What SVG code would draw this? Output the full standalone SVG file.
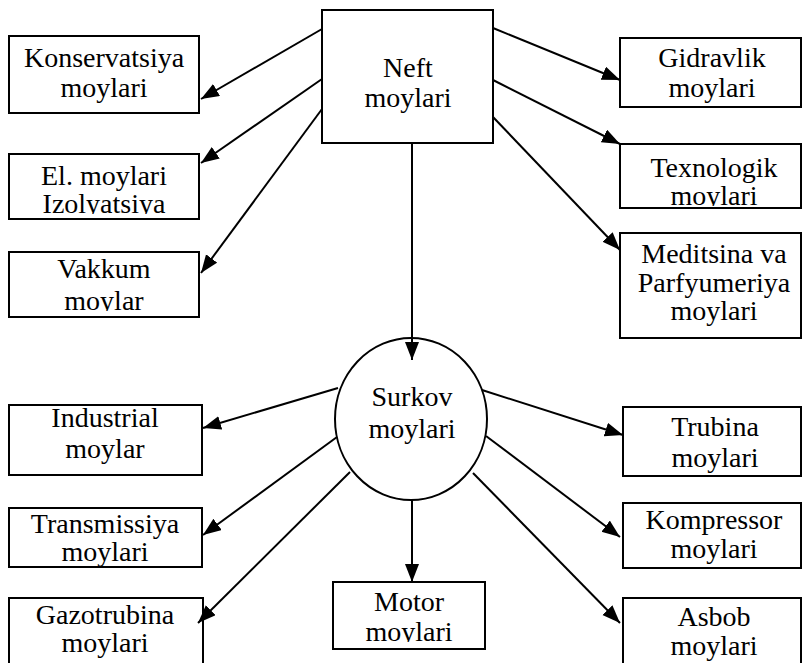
<svg xmlns="http://www.w3.org/2000/svg" width="802" height="663" viewBox="0 0 802 663">
<style>
.box{fill:#fff;stroke:#000;stroke-width:2}
.t{font-family:"Liberation Serif","Times New Roman",serif;font-size:28px;fill:#000;text-anchor:middle}
.c{stroke:#000;stroke-width:2;fill:none}
</style>
<defs>
<marker id="ah" markerUnits="userSpaceOnUse" markerWidth="19" markerHeight="15" refX="18" refY="7" orient="auto">
<path d="M0,0 L18,7 L0,14 Z" fill="#000"/>
</marker>
<clipPath id="cutIzo"><rect x="0" y="150" width="210" height="64"/></clipPath>
<clipPath id="cutVak"><rect x="0" y="250" width="210" height="61"/></clipPath>
<clipPath id="cutTex"><rect x="615" y="140" width="190" height="66"/></clipPath>
<clipPath id="cutMot"><rect x="330" y="580" width="160" height="62"/></clipPath>
</defs>
<rect width="802" height="663" fill="#fff"/>

<g id="neft">
<rect class="box" x="322" y="10" width="171" height="133"/>
<text class="t" x="408" y="77">Neft</text>
<text class="t" x="408" y="107">moylari</text>
</g>

<g id="konservatsiya">
<rect class="box" x="9" y="36" width="190" height="77"/>
<text class="t" x="104" y="67">Konservatsiya</text>
<text class="t" x="104" y="97">moylari</text>
</g>

<g id="el-moylari">
<rect class="box" x="9" y="154" width="190" height="65"/>
<text class="t" x="104" y="185">El. moylari</text>
<text class="t" x="104" y="213" clip-path="url(#cutIzo)">Izolyatsiya</text>
</g>

<g id="vakkum">
<rect class="box" x="9" y="252" width="190" height="65"/>
<text class="t" x="104" y="278">Vakkum</text>
<text class="t" x="104" y="310" clip-path="url(#cutVak)">moylar</text>
</g>

<g id="gidravlik">
<rect class="box" x="620" y="38" width="181" height="69"/>
<text class="t" x="712" y="67">Gidravlik</text>
<text class="t" x="712" y="97">moylari</text>
</g>

<g id="texnologik">
<rect class="box" x="620" y="144" width="181" height="64"/>
<text class="t" x="714" y="177">Texnologik</text>
<text class="t" x="714" y="205" clip-path="url(#cutTex)">moylari</text>
</g>

<g id="meditsina">
<rect class="box" x="620" y="233" width="181" height="105"/>
<text class="t" x="714" y="263">Meditsina va</text>
<text class="t" x="714" y="292">Parfyumeriya</text>
<text class="t" x="714" y="320">moylari</text>
</g>

<g id="surkov">
<ellipse class="box" cx="411" cy="419" rx="76" ry="81"/>
<text class="t" x="412" y="406">Surkov</text>
<text class="t" x="412" y="438">moylari</text>
</g>

<g id="industrial">
<rect class="box" x="9" y="405" width="193" height="70"/>
<text class="t" x="105" y="427">Industrial</text>
<text class="t" x="105" y="458">moylar</text>
</g>

<g id="transmissiya">
<rect class="box" x="9" y="508" width="193" height="59"/>
<text class="t" x="105" y="533">Transmissiya</text>
<text class="t" x="105" y="561">moylari</text>
</g>

<g id="gazotrubina">
<rect class="box" x="9" y="598" width="194" height="70"/>
<text class="t" x="105" y="624">Gazotrubina</text>
<text class="t" x="105" y="652">moylari</text>
</g>

<g id="motor">
<rect class="box" x="333" y="582" width="152" height="67"/>
<text class="t" x="409" y="611">Motor</text>
<text class="t" x="409" y="641" clip-path="url(#cutMot)">moylari</text>
</g>

<g id="trubina">
<rect class="box" x="623" y="407" width="178" height="69"/>
<text class="t" x="715" y="436">Trubina</text>
<text class="t" x="715" y="467">moylari</text>
</g>

<g id="kompressor">
<rect class="box" x="623" y="503" width="178" height="65"/>
<text class="t" x="714" y="529">Kompressor</text>
<text class="t" x="714" y="558">moylari</text>
</g>

<g id="asbob">
<rect class="box" x="623" y="598" width="178" height="70"/>
<text class="t" x="714" y="626">Asbob</text>
<text class="t" x="714" y="655">moylari</text>
</g>

<g id="connectors">
<line class="c" x1="322" y1="29" x2="201" y2="99" marker-end="url(#ah)"/>
<line class="c" x1="322" y1="79" x2="201" y2="163" marker-end="url(#ah)"/>
<line class="c" x1="322" y1="109" x2="201" y2="273" marker-end="url(#ah)"/>
<line class="c" x1="493" y1="28" x2="620" y2="80" marker-end="url(#ah)"/>
<line class="c" x1="493" y1="80" x2="620" y2="144" marker-end="url(#ah)"/>
<line class="c" x1="493" y1="117" x2="620" y2="250" marker-end="url(#ah)"/>
<line class="c" x1="412" y1="143" x2="412" y2="360" marker-end="url(#ah)"/>
<line class="c" x1="338" y1="388" x2="203" y2="428" marker-end="url(#ah)"/>
<line class="c" x1="337" y1="437" x2="203" y2="535" marker-end="url(#ah)"/>
<line class="c" x1="350" y1="472" x2="198" y2="623" marker-end="url(#ah)"/>
<line class="c" x1="482" y1="390" x2="623" y2="435" marker-end="url(#ah)"/>
<line class="c" x1="486" y1="436" x2="620" y2="537" marker-end="url(#ah)"/>
<line class="c" x1="473" y1="473" x2="620" y2="623" marker-end="url(#ah)"/>
<line class="c" x1="412" y1="500" x2="412" y2="582" marker-end="url(#ah)"/>
</g>
</svg>
